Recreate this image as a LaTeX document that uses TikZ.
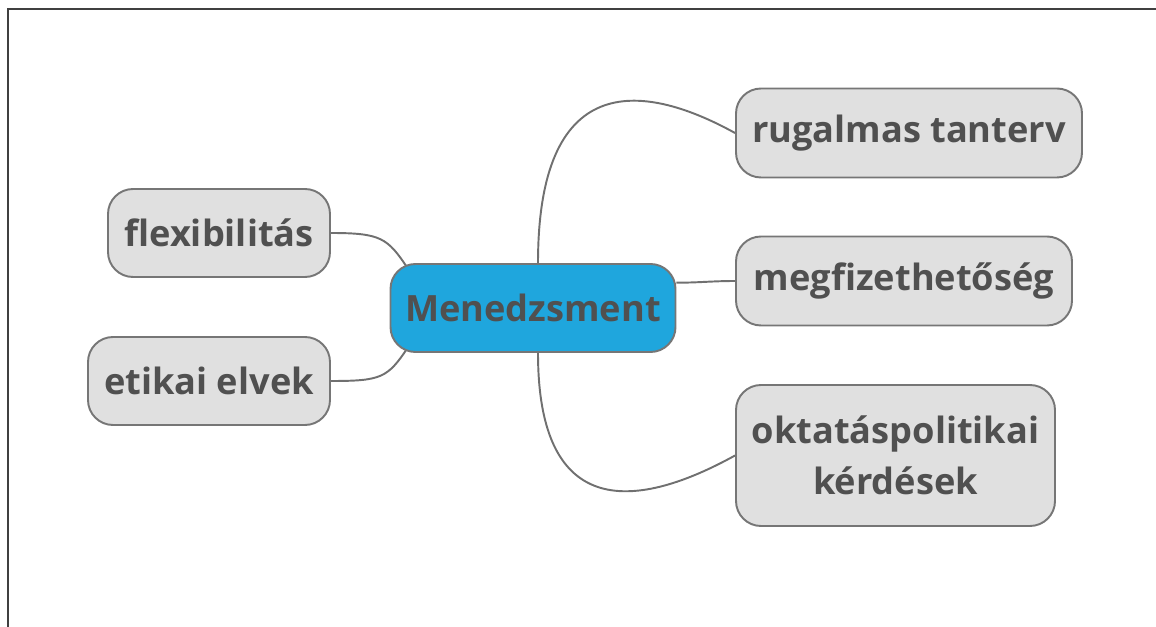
\documentclass[tikz,border=0pt]{standalone}
\usepackage{fontspec}
\setmainfont{Open Sans}
\usepackage{tikz}
\usetikzlibrary{backgrounds}

\definecolor{azulcentro}{RGB}{31,166,221}
\definecolor{grisnodo}{RGB}{224,224,224}
\definecolor{grisborde}{RGB}{118,118,118}
\definecolor{gristexto}{RGB}{80,80,80}
\definecolor{grislinea}{RGB}{112,112,112}

\tikzset{
  rama/.style={draw=grisborde,line width=1.1pt,fill=grisnodo,rounded corners=0.5cm,
    text=gristexto,font=\fontsize{20.6}{29}\selectfont\bfseries,align=center,inner sep=4pt},
  centro/.style={rama,fill=azulcentro},
  enlace/.style={draw=grislinea,line width=1.1pt}
}

\begin{document}
\begin{tikzpicture}
\useasboundingbox (0,0) rectangle (23.12,-12.54);
%marco de la imagen
\draw [line width=1.2pt,color=black!75] (0.16,-12.54) -- (0.16,-0.18) -- (23.12,-0.18);

%nodo central
\node [centro,minimum width=5.7cm,minimum height=1.76cm] (men) at (10.66,-6.16) {Menedzsment};

%ramas de la derecha
\node [rama,minimum width=6.92cm,minimum height=1.78cm] (rug) at (18.18,-2.66) {rugalmas tanterv};
\node [rama,minimum width=6.72cm,minimum height=1.78cm] (meg) at (18.08,-5.62) {megfizethetőség};
\node [rama,minimum width=6.38cm,minimum height=2.82cm] (okt) at (17.91,-9.11) {oktatáspolitikai\\kérdések};

%ramas de la izquierda
\node [rama,minimum width=4.44cm,minimum height=1.76cm] (flex) at (4.38,-4.66) {flexibilitás};
\node [rama,minimum width=4.84cm,minimum height=1.76cm] (etik) at (4.18,-7.62) {etikai elvek};

%lineas entre nodos
\begin{scope}[on background layer]
\draw [enlace] ([xshift=0.1cm]men.north) .. controls +(0,3.8) and +(-1.92,1.06) .. (rug.west);
\draw [enlace] (men.10) to[out=0,in=180] (meg.west);
\draw [enlace] ([xshift=0.1cm]men.south) .. controls +(0,-3.4) and +(-1.92,-1.06) .. (okt.west);
\draw [enlace] (flex.east) .. controls +(1.0,0) and +(-0.4,0.6) .. ([shift={(0.36,-0.1)}]men.north west);
\draw [enlace] (etik.east) .. controls +(1.0,0) and +(-0.4,-0.6) .. ([shift={(0.36,0.1)}]men.south west);
\end{scope}
\end{tikzpicture}
\end{document}
